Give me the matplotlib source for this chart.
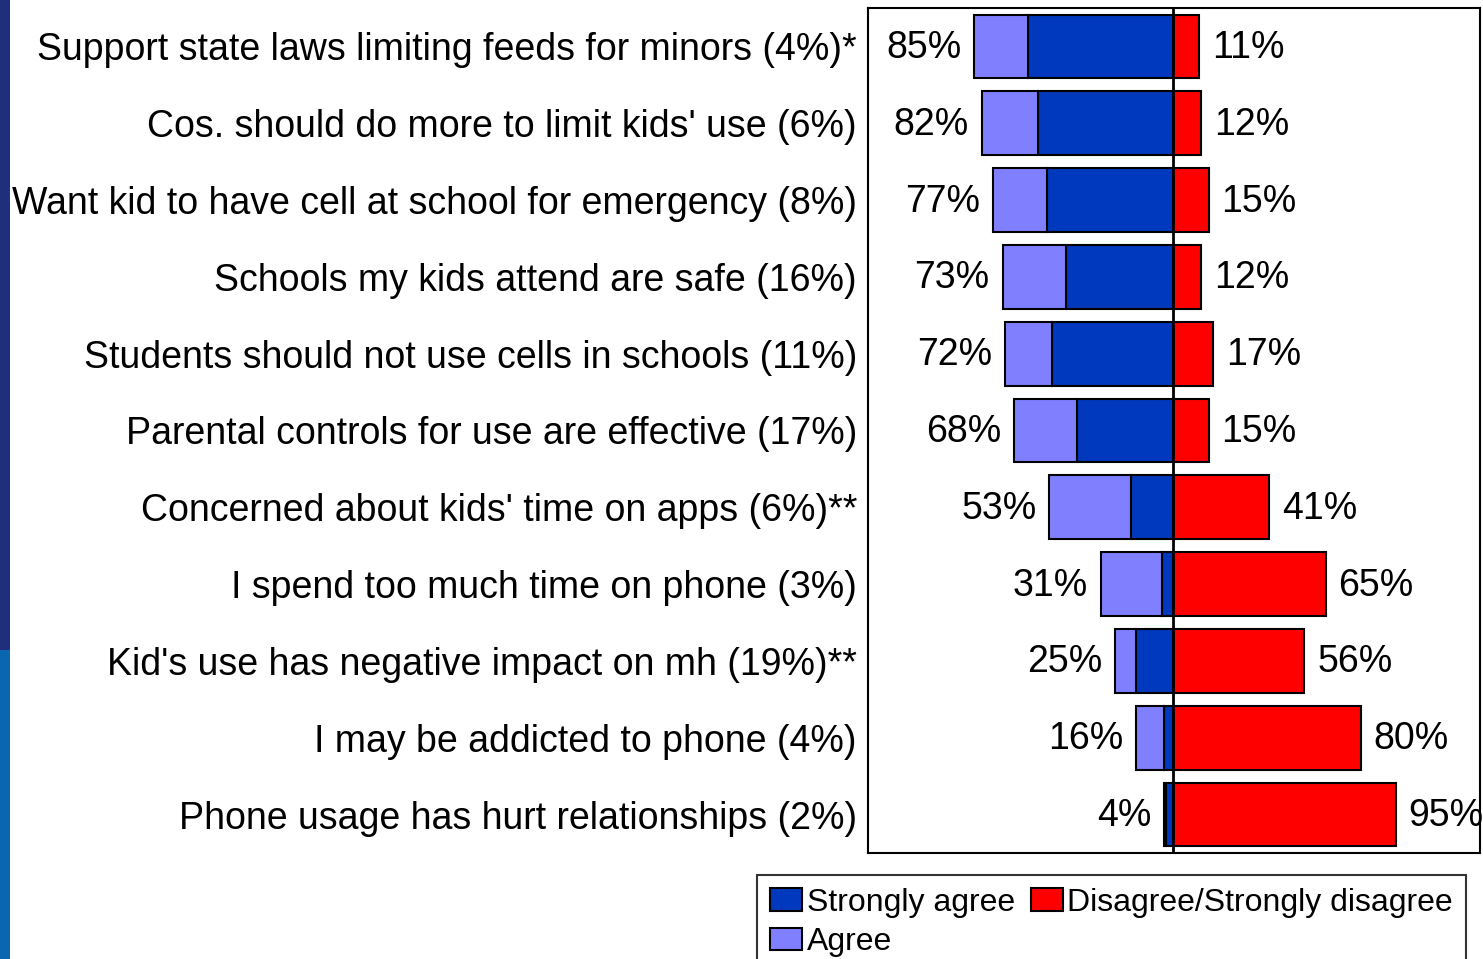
import numpy as np
import matplotlib.pyplot as plt
from matplotlib import font_manager
from matplotlib.patches import Rectangle

categories = [
    "Support state laws limiting feeds for minors (4%)*",
    "Cos. should do more to limit kids' use (6%)",
    "Want kid to have cell at school for emergency (8%)",
    "Schools my kids attend are safe (16%)",
    "Students should not use cells in schools (11%)",
    "Parental controls for use are effective (17%)",
    "Concerned about kids' time on apps (6%)**",
    "I spend too much time on phone (3%)",
    "Kid's use has negative impact on mh (19%)**",
    "I may be addicted to phone (4%)",
    "Phone usage has hurt relationships (2%)",
]
strongly_agree = [62, 58, 54, 46, 52, 41, 18, 5, 16, 4, 3]
agree = [23, 24, 23, 27, 20, 27, 35, 26, 9, 12, 1]
disagree = [11, 12, 15, 12, 17, 15, 41, 65, 56, 80, 95]

plt.rcParams['font.family'] = ['Liberation Sans', 'DejaVu Sans']

# legend uses a condensed face if there is one
names = {f.name for f in font_manager.fontManager.ttflist}
if 'Liberation Sans Narrow' in names:
    leg_font = {'family': ['Liberation Sans Narrow', 'Liberation Sans'], 'size': 27}
else:
    leg_font = {'family': ['Liberation Sans', 'DejaVu Sans'], 'size': 23}

W, H = 1483, 959
fig = plt.figure(figsize=(W / 100, H / 100), dpi=100)
fig.patch.set_facecolor('white')

# side strip
fig.patches.append(Rectangle((0, 1 - 650 / H), 10 / W, 650 / H, transform=fig.transFigure,
                             facecolor='#1F2F7C', edgecolor='none'))
fig.patches.append(Rectangle((0, 0), 10 / W, 1 - 650 / H, transform=fig.transFigure,
                             facecolor='#0A66AF', edgecolor='none'))

ax = fig.add_axes([868 / W, 1 - 853 / H, (1480 - 868) / W, (853 - 8) / H])

sa = np.array(strongly_agree)
ag = np.array(agree)
dis = np.array(disagree)
y = np.arange(len(categories))
h = 0.83

c_sa, c_ag, c_dis = '#0039BD', '#8080FF', '#FF0000'
b1 = ax.barh(y, -sa, height=h, color=c_sa, edgecolor='black', linewidth=1.5, label='Strongly agree')
b2 = ax.barh(y, -ag, left=-sa, height=h, color=c_ag, edgecolor='black', linewidth=1.5, label='Agree')
b3 = ax.barh(y, dis, height=h, color=c_dis, edgecolor='black', linewidth=1.5,
             label='Disagree/Strongly disagree')

for yi, a, d in zip(y, sa + ag, dis):
    ax.text(-a - 5.5, yi + 0.02, f"{a}%", ha='right', va='center', fontsize=27)
    ax.text(d + 5.5, yi + 0.02, f"{d}%", ha='left', va='center', fontsize=27)

ax.axvline(0, color='black', linewidth=2)
ax.set_xlim(-130.5, 131)
ax.set_ylim(len(categories) - 0.5, -0.5)
ax.set_xticks([])
ax.set_yticks(y)
ax.set_yticklabels(categories, fontsize=27)
ax.tick_params(axis='y', length=0, pad=8)
for s in ax.spines.values():
    s.set_linewidth(1.5)

leg = fig.legend([b1, b2, b3], ['Strongly agree', 'Agree', 'Disagree/Strongly disagree'],
                 ncol=2, loc='upper left', bbox_to_anchor=(757 / W, 1 - 875 / H),
                 prop=leg_font, frameon=True, fancybox=False, edgecolor='black', borderpad=0.4,
                 handlelength=1.0, handleheight=0.7, handletextpad=0.15, columnspacing=0.5,
                 labelspacing=0.3, borderaxespad=0)
leg.get_frame().set_linewidth(1.5)

fig.savefig('out.png', dpi=100)
